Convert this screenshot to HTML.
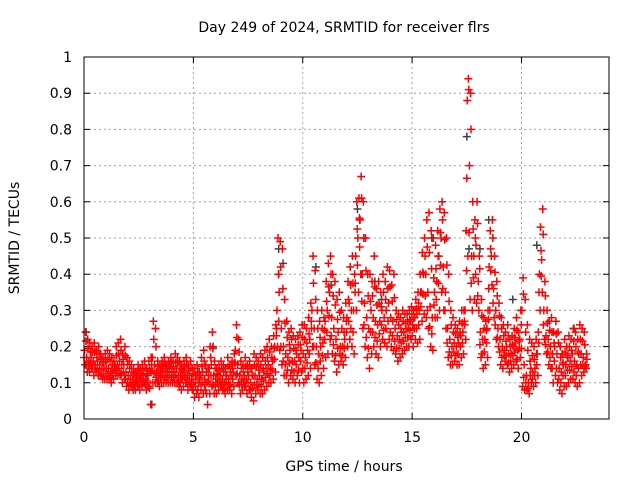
<!DOCTYPE html>
<html><head><meta charset="utf-8"><style>
body{margin:0;background:#fff;}
svg{display:block;font-family:"DejaVu Sans","Liberation Sans",sans-serif;}
</style></head><body>
<svg id="chart" width="640" height="480">
<text x="344" y="32" text-anchor="middle" font-size="14">Day 249 of 2024, SRMTID for receiver flrs</text>
<text x="344" y="471" text-anchor="middle" font-size="14">GPS time / hours</text>
<text transform="translate(19,238) rotate(-90)" text-anchor="middle" font-size="14">SRMTID / TECUs</text>
<g id="grid"></g>
<g id="ticks"></g>
<g id="gray"></g>
<g id="red"></g>
<rect x="84" y="57" width="525" height="362" fill="none" stroke="#000" stroke-width="1"/>
</svg>
<script>
const xTicks=[0,5,10,15,20];
const yTicks=[0,0.1,0.2,0.3,0.4,0.5,0.6,0.7,0.8,0.9,1];
const yTickLabels=["0","0.1","0.2","0.3","0.4","0.5","0.6","0.7","0.8","0.9","1"];
const stepHours=0.1;
const hiVals=[.24,.22,.21,.20,.21,.19,.20,.18,.17,.18,.19,.18,.17,.16,.2,.21,.22,.18,.2,.17,.16,.15,.14,.13,.15,.14,.15,.16,.14,.16,.17,.27,.25,.16,.15,.16,.17,.15,.16,.17,.16,.18,.17,.16,.15,.16,.17,.15,.16,.14,.14,.15,.13,.17,.19,.15,.14,.2,.24,.16,.14,.15,.16,.15,.14,.17,.15,.16,.18,.26,.22,.16,.15,.17,.15,.16,.14,.18,.17,.16,.18,.17,.19,.2,.22,.2,.23,.26,.5,.49,.47,.33,.27,.24,.25,.23,.22,.23,.24,.26,.26,.25,.28,.32,.45,.41,.3,.27,.3,.28,.38,.43,.45,.4,.38,.33,.35,.3,.28,.32,.38,.42,.45,.4,.6,.61,.67,.6,.5,.4,.4,.38,.45,.36,.38,.35,.4,.38,.42,.41,.37,.4,.3,.29,.28,.3,.29,.29,.3,.31,.3,.33,.35,.4,.46,.5,.55,.57,.52,.5,.48,.52,.58,.6,.57,.5,.4,.3,.28,.26,.25,.27,.3,.3,.52,.94,.9,.6,.55,.6,.45,.33,.28,.27,.3,.52,.55,.45,.38,.32,.28,.26,.24,.26,.22,.23,.25,.28,.24,.3,.39,.33,.26,.22,.21,.2,.22,.24,.53,.58,.38,.3,.27,.28,.24,.27,.24,.2,.18,.22,.2,.23,.22,.25,.24,.22,.26,.25,.24,.18];
const midVals=[.19,.17,.16,.17,.16,.15,.16,.15,.14,.14,.14,.14,.13,.13,.15,.15,.16,.15,.15,.13,.12,.11,.11,.1,.12,.11,.12,.12,.11,.12,.13,.17,.15,.13,.12,.13,.14,.13,.13,.14,.13,.13,.14,.12,.12,.13,.13,.12,.12,.11,.1,.11,.1,.12,.13,.11,.1,.14,.15,.12,.11,.12,.12,.11,.1,.12,.11,.12,.13,.19,.15,.12,.11,.12,.11,.12,.1,.12,.12,.11,.12,.11,.13,.14,.15,.14,.16,.2,.3,.35,.25,.2,.18,.17,.19,.16,.16,.18,.17,.19,.18,.17,.19,.22,.3,.25,.2,.18,.2,.21,.27,.3,.35,.28,.25,.22,.24,.2,.2,.22,.28,.32,.3,.3,.45,.5,.55,.4,.32,.28,.25,.3,.28,.27,.26,.27,.3,.28,.3,.32,.28,.27,.25,.23,.22,.24,.24,.25,.25,.27,.26,.28,.29,.3,.35,.4,.4,.35,.31,.28,.35,.38,.45,.5,.42,.35,.25,.22,.2,.21,.2,.21,.23,.24,.3,.88,.7,.45,.45,.48,.38,.24,.22,.22,.25,.42,.45,.36,.3,.25,.22,.2,.19,.2,.18,.18,.2,.21,.19,.22,.3,.15,.12,.1,.14,.13,.14,.18,.4,.44,.3,.23,.22,.2,.18,.2,.18,.14,.13,.15,.15,.17,.16,.18,.16,.15,.18,.18,.17,.15];
const loVals=[.15,.13,.13,.14,.12,.13,.12,.12,.11,.11,.11,.11,.1,.11,.12,.12,.12,.1,.11,.09,.08,.09,.08,.08,.09,.08,.09,.1,.08,.09,.04,.1,.1,.1,.09,.1,.1,.1,.1,.1,.1,.1,.1,.09,.08,.09,.1,.08,.09,.08,.06,.07,.06,.08,.07,.08,.04,.07,.09,.07,.07,.08,.09,.08,.07,.08,.08,.07,.09,.12,.1,.07,.08,.09,.07,.08,.06,.05,.07,.08,.07,.07,.08,.09,.1,.1,.11,.13,.2,.19,.15,.12,.12,.1,.12,.11,.1,.12,.1,.13,.1,.11,.12,.14,.2,.15,.11,.1,.12,.14,.17,.18,.22,.18,.16,.13,.15,.16,.15,.17,.2,.22,.2,.18,.3,.35,.4,.25,.2,.17,.14,.18,.2,.18,.17,.2,.22,.21,.2,.22,.2,.19,.18,.16,.17,.18,.19,.2,.2,.22,.2,.22,.21,.22,.27,.29,.28,.25,.2,.19,.28,.28,.3,.35,.3,.25,.17,.15,.15,.16,.15,.15,.17,.18,.22,.45,.33,.3,.33,.32,.3,.17,.14,.15,.17,.3,.37,.28,.22,.2,.15,.14,.16,.15,.13,.14,.15,.16,.14,.17,.09,.08,.08,.07,.1,.09,.1,.12,.3,.35,.22,.18,.15,.14,.1,.12,.1,.08,.07,.09,.09,.1,.11,.11,.1,.09,.1,.12,.13,.14];
const grayTimes=[0.1,3.1,5.9,8.9,8.9,9.1,10.6,11.3,12.5,12.6,13.3,13.6,15.9,17.5,17.6,18.1,18.5,19.6,20.7,22.4];
const grayVals=[0.24,0.04,0.2,0.47,0.4,0.43,0.42,0.37,0.58,0.55,0.38,0.33,0.5,0.78,0.47,0.47,0.55,0.33,0.48,0.25];

const X0=84,X1=609,Y0=419,Y1=57;
function xs(t){return X0+(t/24)*(X1-X0);}
function ys(v){return Y0-v*(Y0-Y1);}
const NS="http://www.w3.org/2000/svg";
function mk(tag,attrs,parent){const e=document.createElementNS(NS,tag);for(const k in attrs)e.setAttribute(k,attrs[k]);parent.appendChild(e);return e;}
const grid=document.getElementById('grid'),ticks=document.getElementById('ticks');
xTicks.forEach((t,i)=>{
  const x=xs(t);
  if(t>0){const g=mk('line',{x1:x,x2:x,y1:Y1,y2:Y0,stroke:'#a0a0a0','stroke-dasharray':'2,3'},grid);
  
  }
  const a=mk('path',{d:`M${x},${Y0}v-6M${x},${Y1}v6`,stroke:'#000'},ticks);
  
  
  const l=mk('text',{x:x,y:Y0+23,'text-anchor':'middle','font-size':'14'},ticks);l.textContent=String(t);
  
  
});
yTicks.forEach((v,i)=>{
  const y=ys(v);
  if(v>0&&v<1){const g=mk('line',{x1:X0,x2:X1,y1:y,y2:y,stroke:'#a0a0a0','stroke-dasharray':'2,3'},grid);
  
  }
  const a=mk('path',{d:`M${X0},${y}h6M${X1},${y}h-6`,stroke:'#000'},ticks);
  
  
  const l=mk('text',{x:X0-12,y:y+5,'text-anchor':'end','font-size':'14'},ticks);l.textContent=yTickLabels[i];
  
  
});
function plus(t,v,color,parent,name){
  const x=xs(t),y=ys(v);
  const p=mk('path',{d:`M${x-4},${y}h8M${x},${y-4}v8`,stroke:color,'stroke-width':'1.5',fill:'none'},parent);
  
  
}
const gray=document.getElementById('gray'),red=document.getElementById('red');
grayTimes.forEach((t,i)=>plus(t,grayVals[i],'#404040',gray,'gray-point'));
hiVals.forEach((v,i)=>plus(i*stepHours+0.07,v,'#ff0000',red,'red-point-high'));
midVals.forEach((v,i)=>plus(i*stepHours+0.02,v,'#ff0000',red,'red-point-mid'));
loVals.forEach((v,i)=>plus(i*stepHours+0.05,v,'#ff0000',red,'red-point-low'));
midVals.forEach((v,i)=>plus(i*stepHours+0.09,(v+hiVals[i])/2,'#ff0000',red,'red-point-upper'));
midVals.forEach((v,i)=>plus(i*stepHours,(v+loVals[i])/2,'#ff0000',red,'red-point-lower'));
</script>
</body></html>
